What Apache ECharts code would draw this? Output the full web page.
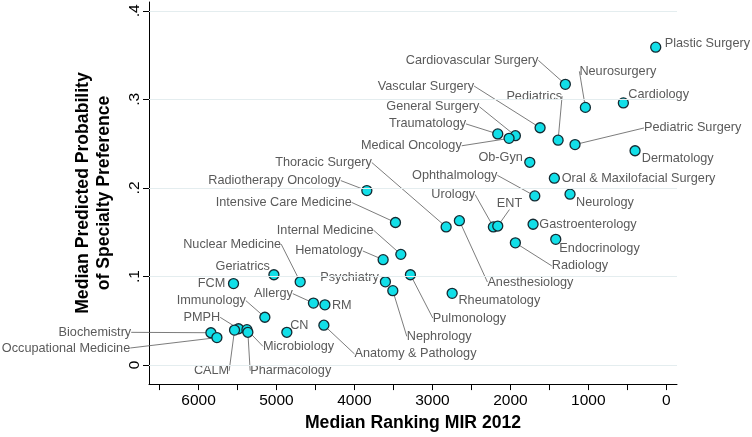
<!DOCTYPE html>
<html>
<head>
<meta charset="utf-8">
<script src="https://cdn.jsdelivr.net/npm/echarts@6/dist/echarts.min.js"></script>
<style>html,body{margin:0;padding:0;background:#fff}#c{width:752px;height:437px}</style>
</head>
<body>
<div id="c"></div>
<script>
// ---- data ----
const specialties = ["Plastic Surgery","Cardiovascular Surgery","Neurosurgery","Cardiology","Pediatrics","Vascular Surgery","Pediatric Surgery","Dermatology","Ob-Gyn","Oral & Maxilofacial Surgery","Neurology","Ophthalmology","General Surgery","Medical Oncology","Traumatology","Radiotherapy Oncology","Thoracic Surgery","Intensive Care Medicine","Anesthesiology","Urology","ENT","Internal Medicine","Hematology","Psychiatry","Nephrology","Pulmonology","Rheumatology","Nuclear Medicine","Geriatrics","Allergy","RM","Immunology","CN","Anatomy & Pathology","FCM","Biochemistry","Occupational Medicine","PMPH","CALM","Microbiology","Pharmacology","Gastroenterology","Endocrinology","Radiology"];
const medianRanking = [136,1295,1038,551,1388,1619,1171,401,1751,1436,1235,1687,1936,2017,2162,3841,2824,3474,2654,2218,2162,3405,3632,3603,3508,3282,2747,4696,5033,4526,4379,5149,4867,4392,5551,5841,5764,5487,5538,5379,5367,1709,1418,1936];
const medianProb = [0.359,0.317,0.291,0.296,0.254,0.268,0.249,0.242,0.229,0.211,0.193,0.191,0.259,0.256,0.261,0.197,0.156,0.161,0.163,0.156,0.157,0.125,0.119,0.094,0.084,0.102,0.081,0.094,0.102,0.070,0.068,0.054,0.037,0.045,0.092,0.0365,0.031,0.041,0.0395,0.040,0.037,0.159,0.142,0.138];
const xTickValues = [0,500,1000,1500,2000,2500,3000,3500,4000,4500,5000,5500,6000,6500];
const xLabelValues = [0,1000,2000,3000,4000,5000,6000];
const yLabelValues = [0,0.1,0.2,0.3,0.4];

// ---- label layout (pixel offsets from marker, align, leader line) ----
const labelLayoutSpec = [
 [9,-4,'left',false],[-27,-24,'right',true],[-6,-36,'left',true],[5,-8,'left',false],
 [4,-44,'right',true],[-66,-41.7,'right',true],[69,-16.6,'left',true],[6.7,7.7,'left',false],
 [-7,-5,'right',false],[7.4,0.3,'left',false],[6,8,'left',false],[-37.4,-20.6,'right',true],
 [-36,-29,'right',true],[-47.3,7.4,'right',true],[-31.7,-10,'right',true],[-26,-10,'right',true],
 [-74.3,-64.4,'right',true],[-43.6,-20,'right',true],[28,61.3,'left',true],[-18.3,-32.4,'right',true],
 [-1,-23,'left',true],[-27.4,-24.3,'right',true],[-20.3,-8.7,'right',true],[-6.6,-4.4,'right',false],
 [14,45.7,'left',true],[22.4,43.4,'left',true],[6.3,7,'left',false],[-19,-37.7,'right',true],
 [-4,-8.7,'right',false],[-20.6,-9.4,'right',true],[7,0.3,'left',false],[-19,-16.6,'right',true],
 [3.3,-7.3,'left',false],[30.6,28.7,'left',true],[-8.3,0,'right',false],[-79.7,-0.4,'right',true],
 [-86.7,10.4,'right',true],[-18.3,-11.4,'right',true],[-23,40.7,'center',true],[16,16.7,'left',true],
 [2.3,38.4,'left',true],[6.3,0,'left',false],[3.6,9,'left',false],[36.4,23,'left',true]
];

const FONT = "'Liberation Sans', Arial, Helvetica, sans-serif";
const seriesData = specialties.map((n, i) => ({
  name: n,
  value: [medianRanking[i], medianProb[i]],
  labelLine: { show: labelLayoutSpec[i][3] }
}));

const chart = echarts.init(document.getElementById('c'), null, { renderer: 'canvas' });
chart.setOption({
  animation: false,
  backgroundColor: '#ffffff',
  grid: { left: 149, right: 75, top: 2, bottom: 52.5 },
  xAxis: {
    type: 'value', inverse: true, min: -137, max: 6635,
    name: 'Median Ranking MIR 2012', nameLocation: 'middle', nameGap: 29,
    nameTextStyle: { fontFamily: FONT, fontWeight: 'bold', fontSize: 17.6, color: '#000' },
    axisLine: { show: true, onZero: false, lineStyle: { color: '#000', width: 1 } },
    axisTick: { show: true, length: 6, customValues: xTickValues, lineStyle: { color: '#000' } },
    axisLabel: { customValues: xLabelValues, fontFamily: FONT, fontSize: 15.5, color: '#000', margin: 9,
      formatter: v => String(Math.round(v)) },
    splitLine: { show: false }
  },
  yAxis: {
    type: 'value', min: -0.0215, max: 0.41,
    name: 'Median Predicted Probability\nof Specialty Preference', nameLocation: 'middle', nameGap: 34, nameRotate: 90,
    nameTextStyle: { fontFamily: FONT, fontWeight: 'bold', fontSize: 17.6, color: '#000', lineHeight: 21 },
    axisLine: { show: true, onZero: false, lineStyle: { color: '#000', width: 1 } },
    axisTick: { show: true, length: 6, customValues: yLabelValues, lineStyle: { color: '#000' } },
    axisLabel: {
      customValues: yLabelValues, rotate: 90, fontFamily: FONT, fontSize: 15.5, color: '#000', margin: 6,
      formatter: v => (Math.abs(v) < 1e-9 ? '0' : '.' + Math.round(v * 10))
    },
    splitLine: { show: false }
  },
  series: [{
    type: 'scatter',
    data: [],
    z: 0,
    silent: true,
    markLine: {
      silent: true, symbol: ['none', 'none'], label: { show: false },
      lineStyle: { color: '#e4edef', width: 1, type: 'solid' },
      data: yLabelValues.map(v => ({ yAxis: v }))
    }
  }, {
    type: 'scatter',
    z: 3,
    data: seriesData,
    symbol: 'circle', symbolSize: 10,
    itemStyle: { color: '#12dfe8', borderColor: '#142a32', borderWidth: 1.3, opacity: 1 },
    label: { show: true, formatter: '{b}', position: 'inside', fontFamily: FONT, fontSize: 12.7, color: '#5a5a5a' },
    labelLine: { show: true, length2: 0, lineStyle: { color: '#5a5a5a', width: 0.8 } },
    labelLayout: function (p) {
      const s = labelLayoutSpec[p.dataIndex];
      const cx = p.rect.x + p.rect.width / 2, cy = p.rect.y + p.rect.height / 2;
      return { x: cx + s[0], y: cy + s[1], align: s[2], verticalAlign: 'middle' };
    }
  }]
});
</script>
</body>
</html>
